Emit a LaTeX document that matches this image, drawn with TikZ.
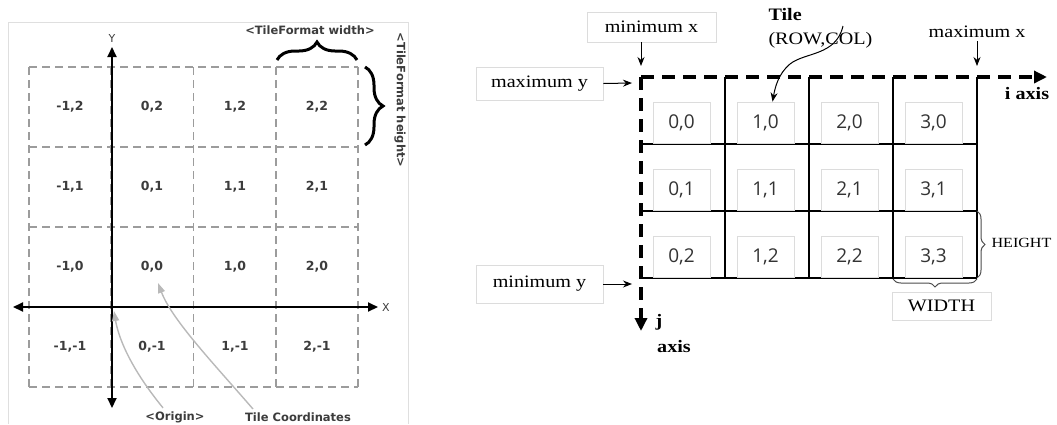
\documentclass[tikz,border=0pt]{standalone}
\usepackage{fontspec}
\newfontfamily\versans{DejaVu Sans}
\newfontfamily\timesw[FakeStretch=1.15]{Liberation Serif}
\newfontfamily\cellsans{Open Sans}
\usepackage{xcolor}
\definecolor{dashgray}{HTML}{9C9C9C}
\definecolor{txtgray}{HTML}{3C3C3C}
\definecolor{boxgray}{HTML}{DCDCDC}
\usetikzlibrary{arrows.meta,decorations.pathreplacing}
\tikzset{
    frame/.style = {
      draw=gray!25,
      line width=0.8pt
    },
    tilecell/.style = {
      font=\versans\bfseries\fontsize{12.5}{14}\selectfont,
      text=txtgray
    },
    note/.style = {
      font=\versans\bfseries\fontsize{11.5}{14}\selectfont,
      text=txtgray
    },
    tilegrid/.style = {
      dashgray,
      line width=1.6pt,
      dash pattern=on 8pt off 5pt
    },
    axis/.style = {
      line width=2pt,
      {Triangle[length=10pt,width=9pt]}-{Triangle[length=10pt,width=9pt]}
    },
    curly/.style = {
      decorate,
      decoration={brace, amplitude=18pt},
      line width=3pt
    },
    pointer/.style = {
      draw=gray!55,
      line width=1.4pt,
      -{Triangle[length=10pt,width=7pt]}
    },
    tileline/.style = {
      line width=1.2pt
    },
    gridcell/.style = {
      draw=boxgray,
      line width=0.8pt,
      minimum width=57pt,
      minimum height=41pt,
      font=\cellsans\fontsize{19}{21}\selectfont,
      text=black!80
    },
    serif/.style = {
      font=\timesw\fontsize{17.5}{24}\selectfont
    },
    bserif/.style = {
      font=\timesw\bfseries\fontsize{17.5}{24}\selectfont
    },
    lbox/.style = {
      draw=boxgray,
      line width=0.8pt,
      serif
    },
    ijaxis/.style = {
      line width=3.6pt,
      dash pattern=on 13pt off 8pt,
      -{Triangle[length=13pt,width=12pt]}
    },
    ptr/.style = {
      line width=1pt,
      -{Stealth[length=9pt,width=7pt]}
    },
    fbrace/.style = {
      decorate,
      decoration={brace, amplitude=8pt},
      draw=black!70,
      line width=1pt
    }
}

\begin{document}
\begin{tikzpicture}[x=1pt, y=-1pt]
      \useasboundingbox (0,0) rectangle (1057,424);

      % left: tile coordinates around the origin
      \draw[frame] (8,424) |- (408,22) -- (408,424);
      \foreach \x in {29,111.25,193.5,275.75,358}
        \draw[tilegrid] (\x,67) -- (\x,387);
      \foreach \y in {67,147,227,307,387}
        \draw[tilegrid] (29,\y) -- (358,\y);
      \foreach \i/\x in {-1/70,0/152,1/235,2/317}
        \foreach \j/\y in {2/107,1/187,0/267,-1/347}
          \node[tilecell] (t\i\j) at (\x,\y) {\i,\j};

      \coordinate (xl) at (13,307);
      \coordinate (xr) at (378,307);
      \coordinate (yt) at (112,47);
      \coordinate (yb) at (112,408);
      \draw[axis] (xl) -- (xr);
      \draw[axis] (yb) -- (yt);
      \node[note, font=\versans\fontsize{11}{13}\selectfont] (Y) at (112,38) {Y};
      \node[note, font=\versans\fontsize{11}{13}\selectfont] (X) at (386,307) {X};

      \node[note] (tfw) at (310,30) {<TileFormat width>};
      \node[note, rotate=-90] (tfh) at (400,100) {<TileFormat height>};
      \draw[curly] (277,60) -- (357,60);
      \draw[curly] (365,67) -- (365,145);

      \node[note] (org) at (175,417) {<Origin>};
      \node[note] (tc) at (298,417) {Tile Coordinates};
      \coordinate (orgtip) at (114,311);
      \coordinate (tctip) at (158,283);
      \draw[pointer] ([xshift=-12pt]org.north) .. controls (128,365) and (118,335) .. (orgtip);
      \draw[pointer] ([xshift=-45pt]tc.north) .. controls (215,365) and (172,320) .. (tctip);

      % right: tiles in i/j axis order
      \coordinate (gTL) at (641,77);
      \foreach \x in {725,809,893,977}
        \draw[tileline] (\x,77) -- (\x,278);
      \foreach \y in {144,211,278}
        \draw[tileline] (641,\y) -- (977,\y);
      \foreach \c/\x/\last in {0/681.5/2,1/765.5/2,2/849.5/2,3/933.5/3} {
        \node[gridcell] (c\c0) at (\x,122.5) {\c,0};
        \node[gridcell] (c\c1) at (\x,189.5) {\c,1};
        \node[gridcell] (c\c2) at (\x,256.5) {\c,\last};
      }

      \coordinate (iend) at (1047,77);
      \coordinate (jend) at (641,331);
      \draw[ijaxis] (gTL) -- (iend);
      \draw[ijaxis] (gTL) -- (jend);
      \node[bserif] (iax) at (1027,94) {i axis};
      \node[bserif] (jax) at (659,322) {j};
      \node[bserif] (jax2) at (674,347) {axis};

      \node[lbox, minimum width=129pt, minimum height=30pt] (mnx) at (651.5,27) {minimum x};
      \node[serif] (mxx) at (977,32) {maximum x};
      \node[lbox, minimum width=127pt, minimum height=33pt] (mxy) at (539.5,83.5) {maximum y};
      \node[lbox, minimum width=127pt, minimum height=38pt] (mny) at (539.5,284) {minimum y};
      \coordinate (mnxtip) at (641,66);
      \coordinate (mxxtip) at (977,66);
      \coordinate (mxytip) at (632,83);
      \coordinate (mnytip) at (632,284);
      \draw[ptr] (mnx.south -| mnxtip) -- (mnxtip);
      \draw[ptr] (mxx.south) -- (mxxtip);
      \draw[ptr] (mxy.east) -- (mxytip);
      \draw[ptr] (mny.east) -- (mnytip);

      \node[serif, align=left, anchor=west] (tl) at (765,28) {\textbf{Tile}\\(ROW,COL)};
      \coordinate (tlstart) at (843,26);
      \draw[ptr] (tlstart) .. controls (836,56) and (805,52) .. (790,64)
        .. controls (778,74) and (775,88) .. ([xshift=7pt]c10.north);

      \draw[fbrace] (977,211) -- (977,278);
      \draw[fbrace] (977,279) -- (893,279);
      \node[serif, font=\timesw\fontsize{14}{18}\selectfont, anchor=west] (hgt) at (988,243) {HEIGHT};
      \node[lbox, minimum width=99pt, minimum height=28pt] (wid) at (941.5,306) {WIDTH};
\end{tikzpicture}
\end{document}
